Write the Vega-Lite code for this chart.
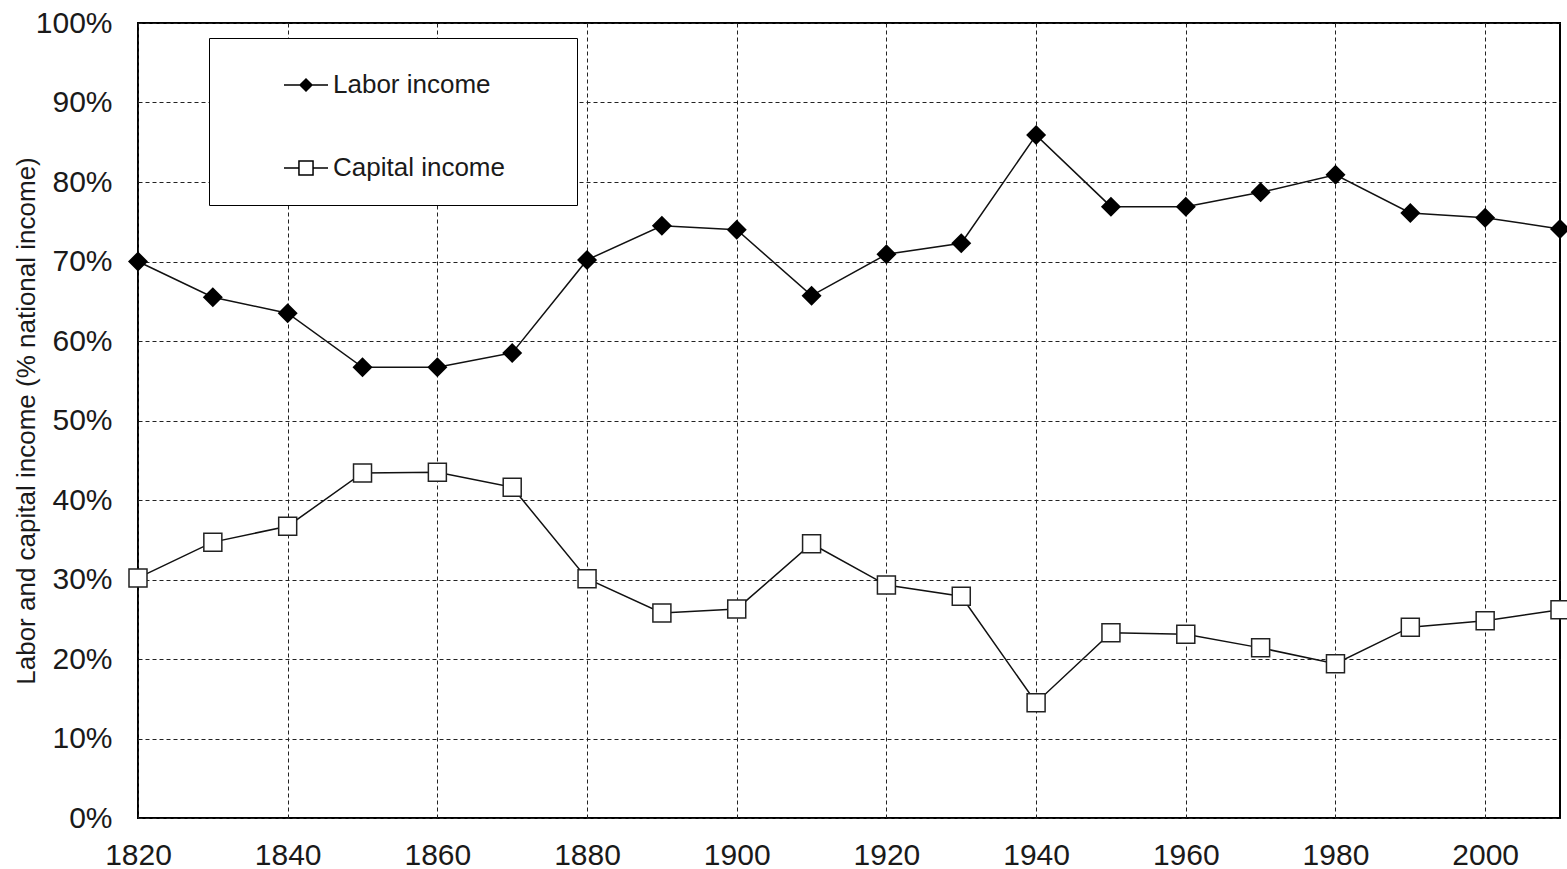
{
  "$schema": "https://vega.github.io/schema/vega-lite/v6.json",
  "autosize": {"type": "none"},
  "width": 1422,
  "height": 795,
  "padding": {"left": 138, "top": 23, "right": 7, "bottom": 51},
  "background": "white",
  "config": {
    "font": "Liberation Sans",
    "view": {"stroke": "black", "strokeWidth": 2},
    "axis": {
      "labelFont": "Liberation Sans",
      "titleFont": "Liberation Sans",
      "labelColor": "#1a1a1a",
      "titleColor": "#1a1a1a",
      "domain": false,
      "ticks": false,
      "gridColor": "#222222",
      "gridDash": [4, 3],
      "gridWidth": 1,
      "gridOpacity": 1
    }
  },
  "data": {
    "values": [
      {"year": 1820, "series": "Labor income", "value": 0.700},
      {"year": 1830, "series": "Labor income", "value": 0.655},
      {"year": 1840, "series": "Labor income", "value": 0.635},
      {"year": 1850, "series": "Labor income", "value": 0.567},
      {"year": 1860, "series": "Labor income", "value": 0.567},
      {"year": 1870, "series": "Labor income", "value": 0.585},
      {"year": 1880, "series": "Labor income", "value": 0.702},
      {"year": 1890, "series": "Labor income", "value": 0.745},
      {"year": 1900, "series": "Labor income", "value": 0.740},
      {"year": 1910, "series": "Labor income", "value": 0.657},
      {"year": 1920, "series": "Labor income", "value": 0.709},
      {"year": 1930, "series": "Labor income", "value": 0.723},
      {"year": 1940, "series": "Labor income", "value": 0.859},
      {"year": 1950, "series": "Labor income", "value": 0.769},
      {"year": 1960, "series": "Labor income", "value": 0.769},
      {"year": 1970, "series": "Labor income", "value": 0.787},
      {"year": 1980, "series": "Labor income", "value": 0.809},
      {"year": 1990, "series": "Labor income", "value": 0.761},
      {"year": 2000, "series": "Labor income", "value": 0.755},
      {"year": 2010, "series": "Labor income", "value": 0.741},
      {"year": 1820, "series": "Capital income", "value": 0.302},
      {"year": 1830, "series": "Capital income", "value": 0.347},
      {"year": 1840, "series": "Capital income", "value": 0.367},
      {"year": 1850, "series": "Capital income", "value": 0.434},
      {"year": 1860, "series": "Capital income", "value": 0.435},
      {"year": 1870, "series": "Capital income", "value": 0.416},
      {"year": 1880, "series": "Capital income", "value": 0.301},
      {"year": 1890, "series": "Capital income", "value": 0.258},
      {"year": 1900, "series": "Capital income", "value": 0.263},
      {"year": 1910, "series": "Capital income", "value": 0.345},
      {"year": 1920, "series": "Capital income", "value": 0.293},
      {"year": 1930, "series": "Capital income", "value": 0.279},
      {"year": 1940, "series": "Capital income", "value": 0.145},
      {"year": 1950, "series": "Capital income", "value": 0.233},
      {"year": 1960, "series": "Capital income", "value": 0.231},
      {"year": 1970, "series": "Capital income", "value": 0.214},
      {"year": 1980, "series": "Capital income", "value": 0.194},
      {"year": 1990, "series": "Capital income", "value": 0.240},
      {"year": 2000, "series": "Capital income", "value": 0.248},
      {"year": 2010, "series": "Capital income", "value": 0.262}
    ]
  },
  "encoding": {
    "x": {
      "field": "year",
      "type": "quantitative",
      "scale": {"domain": [1820, 2010], "nice": false, "zero": false},
      "axis": {
        "title": null,
        "values": [1820, 1840, 1860, 1880, 1900, 1920, 1940, 1960, 1980, 2000],
        "format": "d",
        "labelFontSize": 30,
        "labelPadding": 22,
        "labelFlush": false,
        "labelOverlap": false
      }
    },
    "y": {
      "field": "value",
      "type": "quantitative",
      "scale": {"domain": [0, 1], "nice": false},
      "axis": {
        "title": "Labor and capital income (% national income)",
        "titleFontSize": 26,
        "titleFontWeight": "normal",
        "titlePadding": -4,
        "values": [0, 0.1, 0.2, 0.3, 0.4, 0.5, 0.6, 0.7, 0.8, 0.9, 1.0],
        "format": ".0%",
        "labelFontSize": 30,
        "labelPadding": 26,
        "labelFlush": false,
        "labelOverlap": false
      }
    }
  },
  "layer": [
    {
      "mark": {"type": "line", "color": "#111111", "strokeWidth": 1.5},
      "encoding": {"detail": {"field": "series", "type": "nominal"}}
    },
    {
      "transform": [{"filter": "datum.series === 'Labor income'"}],
      "mark": {"type": "point", "shape": "diamond", "filled": true, "color": "#000000", "size": 400, "opacity": 1}
    },
    {
      "transform": [{"filter": "datum.series === 'Capital income'"}],
      "mark": {"type": "point", "shape": "square", "filled": true, "fill": "white", "stroke": "#222222", "strokeWidth": 1.5, "size": 324, "opacity": 1}
    },
    {
      "transform": [{"filter": "false"}],
      "mark": {"type": "point", "filled": true, "strokeWidth": 1.5, "opacity": 1},
      "encoding": {
        "shape": {
          "field": "series",
          "type": "nominal",
          "scale": {
            "domain": ["Labor income", "Capital income"],
            "range": [
              "M-1,0L1,0M0,-0.27L0.27,0L0,0.27L-0.27,0Z",
              "M-1,0L-0.32,0M0.32,0L1,0M-0.32,-0.32L0.32,-0.32L0.32,0.32L-0.32,0.32Z"
            ]
          },
          "legend": {
            "title": "⠀⠀⠀",
            "titleOrient": "right",
            "titleFontSize": 22,
            "titlePadding": 0,
            "orient": "none",
            "legendX": 71,
            "legendY": 15,
            "strokeColor": "black",
            "fillColor": "white",
            "padding": 24,
            "symbolOffset": 50,
            "symbolSize": 1936,
            "symbolStrokeColor": "black",
            "symbolStrokeWidth": 1.5,
            "symbolOpacity": 1,
            "rowPadding": 47,
            "labelOffset": 4,
            "labelFontSize": 26,
            "labelFont": "Liberation Sans",
            "labelColor": "#1a1a1a",
            "labelLimit": 500
          }
        },
        "fill": {
          "field": "series",
          "type": "nominal",
          "scale": {"domain": ["Labor income", "Capital income"], "range": ["black", "white"]},
          "legend": null
        },
        "stroke": {
          "field": "series",
          "type": "nominal",
          "scale": {"domain": ["Labor income", "Capital income"], "range": ["black", "black"]},
          "legend": null
        }
      }
    }
  ]
}
